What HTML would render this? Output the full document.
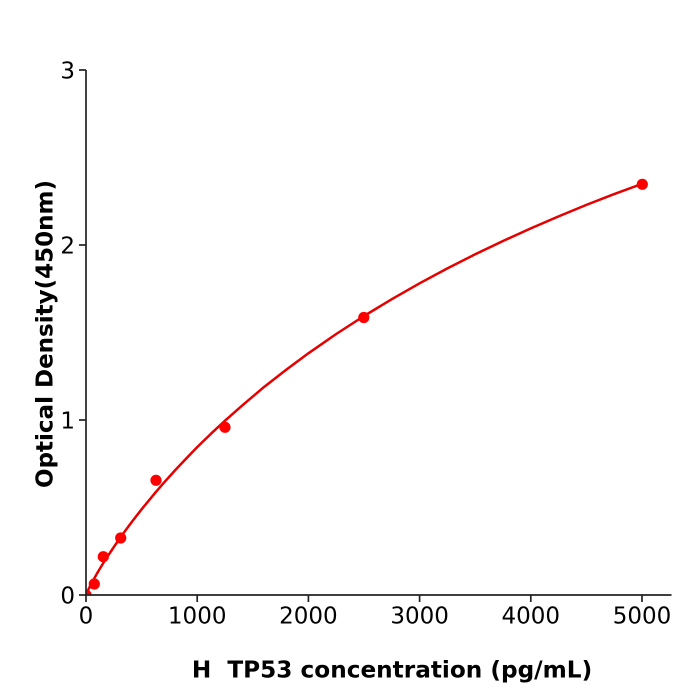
<!DOCTYPE html>
<html><head><meta charset="utf-8"><style>
html,body{margin:0;padding:0;background:#fff;}
svg{display:block;}
text{font-family:"DejaVu Sans","Liberation Sans",sans-serif;fill:#000;}
</style></head><body>
<svg width="700" height="700" viewBox="0 0 700 700" xmlns="http://www.w3.org/2000/svg">
<defs><clipPath id="c"><rect x="86" y="60" width="600" height="535"/></clipPath></defs>
<g clip-path="url(#c)">
<polyline fill="none" stroke="#e60000" stroke-width="2.5" stroke-linejoin="round" stroke-linecap="round" points="86,595 87.1,592.2 88.2,589.8 89.9,586.5 91.6,583.2 94.7,577.6 97.1,573.3 99.3,569.6 103.3,563 107.1,557.1 110.5,552 114.9,545.4 120.7,537.1 126,529.7 132.7,520.8 141.6,509.3 155.5,492.4 163.8,482.8 175,470.4 186.1,458.6 197.2,447.1 211.1,433.6 225,420.7 241.7,405.9 263.9,387.1 286.2,369.8 308.4,353.3 336.2,334 364,316 391.8,299.2 419.6,283.3 447.4,268.4 475.2,254.3 503,241 530.8,228.4 558.6,216.4 586.4,204.9 614.2,194.1 642,183.8"/>
<g fill="#f00">
<circle cx="86" cy="595" r="5.6"/>
<circle cx="94.3" cy="584" r="5.6"/>
<circle cx="103.3" cy="556.7" r="5.6"/>
<circle cx="120.7" cy="538" r="5.6"/>
<circle cx="156" cy="480.3" r="5.6"/>
<circle cx="225" cy="427.3" r="5.6"/>
<circle cx="363.8" cy="317.5" r="5.6"/>
<circle cx="642.3" cy="184.3" r="5.6"/>
</g>
</g>
<g stroke="#222" stroke-width="1.7" fill="none">
<line x1="86" y1="70" x2="86" y2="595.8"/>
<line x1="85.2" y1="595" x2="671.5" y2="595"/>
<line x1="79" y1="595" x2="86" y2="595"/>
<line x1="79" y1="420" x2="86" y2="420"/>
<line x1="79" y1="245" x2="86" y2="245"/>
<line x1="79" y1="70" x2="86" y2="70"/>
<line x1="86" y1="595" x2="86" y2="602"/>
<line x1="197.2" y1="595" x2="197.2" y2="602"/>
<line x1="308.4" y1="595" x2="308.4" y2="602"/>
<line x1="419.6" y1="595" x2="419.6" y2="602"/>
<line x1="530.8" y1="595" x2="530.8" y2="602"/>
<line x1="642" y1="595" x2="642" y2="602"/>
</g>
<g font-size="23" text-anchor="end">
<text x="75" y="603.3">0</text>
<text x="75" y="428.3">1</text>
<text x="75" y="253.3">2</text>
<text x="75" y="78.3">3</text>
</g>
<g font-size="23" text-anchor="middle">
<text x="86" y="623.5">0</text>
<text x="197.2" y="623.5">1000</text>
<text x="308.4" y="623.5">2000</text>
<text x="419.6" y="623.5">3000</text>
<text x="530.8" y="623.5">4000</text>
<text x="642" y="623.5">5000</text>
</g>
<text x="392" y="677.5" font-size="23.2" font-weight="bold" text-anchor="middle" xml:space="preserve">H  TP53 concentration (pg/mL)</text>
<text transform="translate(52.5,334) rotate(-90)" font-size="23" font-weight="bold" text-anchor="middle">Optical Density(450nm)</text>
</svg>
</body></html>
